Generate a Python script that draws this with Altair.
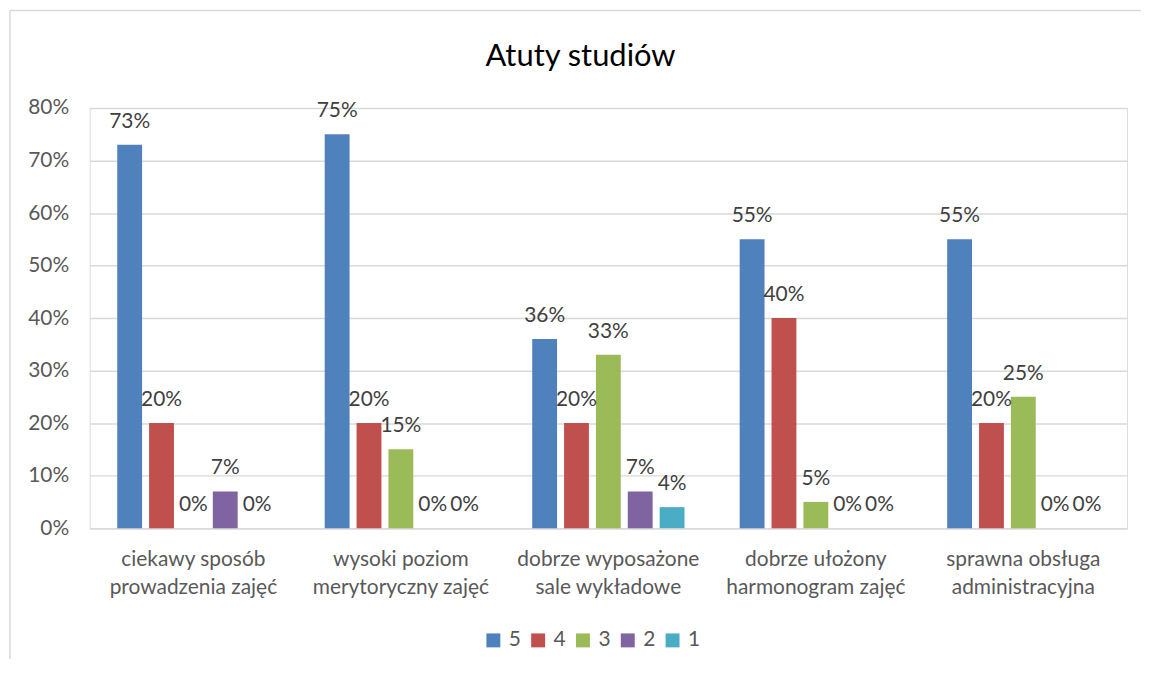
import altair as alt
import pandas as pd

categories = [
    "ciekawy sposób\nprowadzenia zajęć",
    "wysoki poziom\nmerytoryczny zajęć",
    "dobrze wyposażone\nsale wykładowe",
    "dobrze ułożony\nharmonogram zajęć",
    "sprawna obsługa\nadministracyjna",
]
series = ["5", "4", "3", "2", "1"]
colors = ["#4F81BD", "#C0504D", "#9BBB59", "#8064A2", "#4BACC6"]
values_5 = [0.73, 0.75, 0.36, 0.55, 0.55]
values_4 = [0.20, 0.20, 0.20, 0.40, 0.20]
values_3 = [0.00, 0.15, 0.33, 0.05, 0.25]
values_2 = [0.07, 0.00, 0.07, 0.00, 0.00]
values_1 = [0.00, 0.00, 0.04, 0.00, 0.00]
title_text = "Atuty studiów"

rows = []
for s, vals in zip(series, [values_5, values_4, values_3, values_2, values_1]):
    for c, v in zip(categories, vals):
        rows.append({"kategoria": c, "ocena": s, "wartosc": v})
df = pd.DataFrame(rows)

FONT = "Lato"
FS = 21
W, H = 1042, 422

x_enc = alt.X(
    "kategoria:N",
    sort=categories,
    scale=alt.Scale(paddingInner=0.266, paddingOuter=0.133),
    axis=alt.Axis(
        title=None,
        labelAngle=0,
        labelExpr="split(datum.value, '\\n')",
        labelFontSize=FS,
        labelColor="#595959",
        labelFont=FONT,
        labelLineHeight=28,
        labelPadding=21,
        labelLimit=400,
        ticks=False,
        domainColor="#D9D9D9",
        domainWidth=1.5,
        grid=False,
    ),
)
xoff = alt.XOffset("ocena:N", sort=series, scale=alt.Scale(paddingInner=0.22, paddingOuter=0))
y_enc = alt.Y(
    "wartosc:Q",
    scale=alt.Scale(domain=[0, 0.8], nice=False),
    axis=alt.Axis(
        title=None,
        format=".0%",
        values=[0, 0.1, 0.2, 0.3, 0.4, 0.5, 0.6, 0.7, 0.8],
        labelFontSize=FS,
        labelColor="#595959",
        labelFont=FONT,
        labelPadding=21,
        ticks=False,
        domain=False,
        gridColor="#D9D9D9",
        gridWidth=1.5,
    ),
)

base = alt.Chart(df).encode(x=x_enc, xOffset=xoff)

bars = base.mark_bar().encode(
    y=y_enc,
    color=alt.Color(
        "ocena:N",
        sort=series,
        scale=alt.Scale(domain=series, range=colors),
        legend=alt.Legend(
            title=None,
            orient="none",
            direction="horizontal",
            legendX=395,
            legendY=524,
            symbolType="square",
            symbolSize=196,
            symbolStrokeWidth=0,
            labelFontSize=FS,
            labelColor="#595959",
            labelFont=FONT,
            labelOffset=5,
            columnPadding=6,
            padding=0,
        ),
    ),
)

labels = base.mark_text(
    baseline="alphabetic", dy=-17, fontSize=FS, color="#404040", font=FONT
).encode(
    y=alt.Y("wartosc:Q"),
    text=alt.Text("wartosc:Q", format=".0%"),
)

title_df = pd.DataFrame({"t": [title_text]})
title = alt.Chart(title_df).mark_text(
    fontSize=31, font=FONT, color="#000000", baseline="alphabetic", align="center"
).encode(x=alt.value(493), y=alt.value(-42), text="t:N")

border_v = alt.Chart(title_df).mark_rule(color="#D9D9D9", strokeWidth=1.5).encode(
    x=alt.value(-80), y=alt.value(-98), y2=alt.value(560)
)
border_h = alt.Chart(title_df).mark_rule(color="#D9D9D9", strokeWidth=1.5).encode(
    x=alt.value(-80), x2=alt.value(1080), y=alt.value(-98)
)

chart = (
    alt.layer(bars, labels, title, border_v, border_h)
    .properties(
        width=W,
        height=H,
        autosize=alt.AutoSizeParams(type="none"),
        padding={"left": 82, "top": 99, "right": 14, "bottom": 130},
    )
    .configure_view(strokeWidth=0)
    .configure(background="white")
)

chart.save("out.html", embed_options={"renderer": "svg", "actions": False})
